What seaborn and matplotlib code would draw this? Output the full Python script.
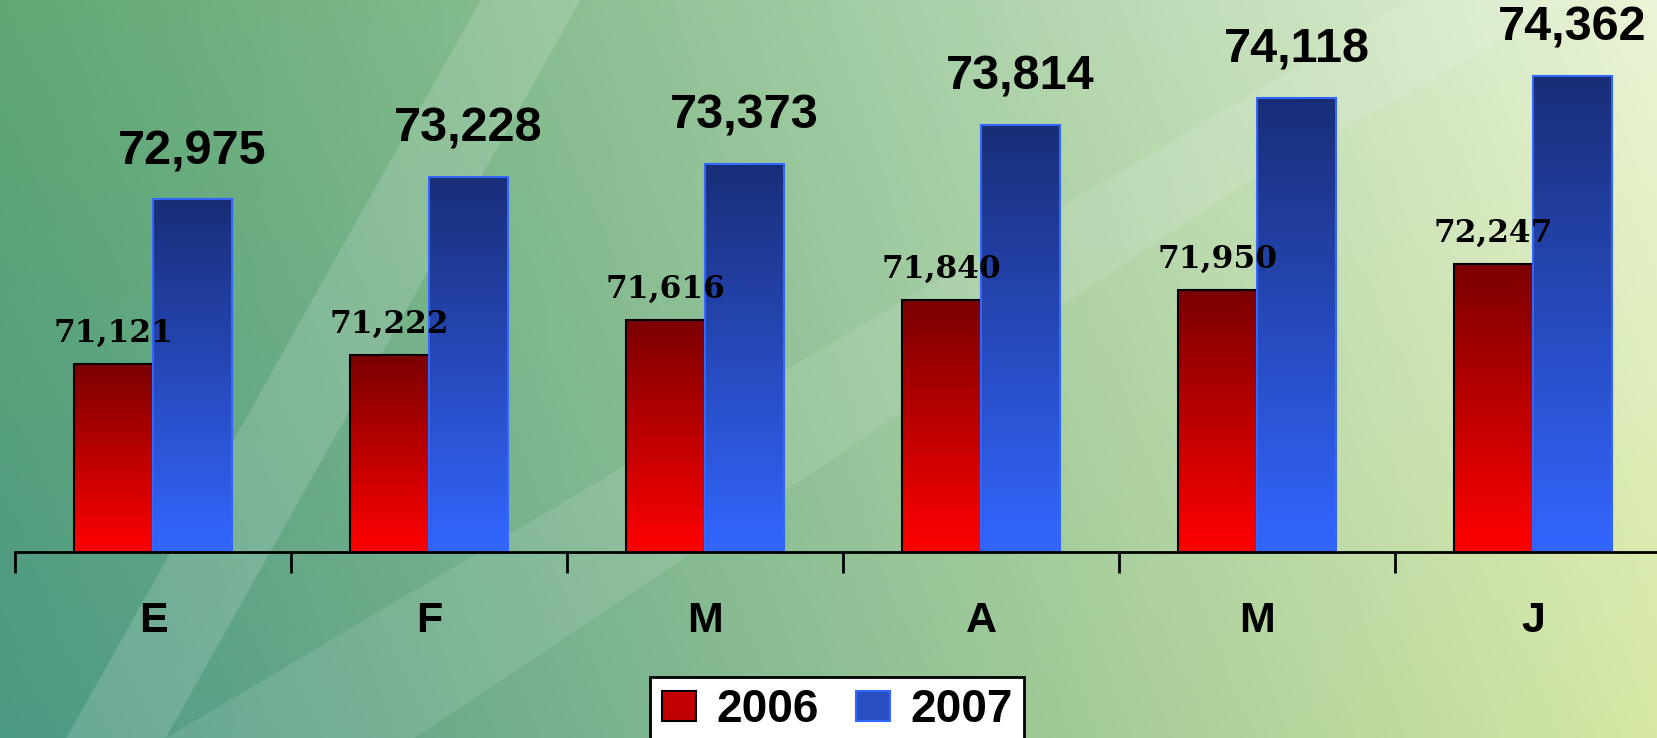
import numpy as np
import pandas as pd
import matplotlib
matplotlib.use('Agg')
import matplotlib.pyplot as plt
import seaborn as sns
from matplotlib.patches import Patch, Polygon

# datos
meses = ['Ene', 'Feb', 'Mar', 'Abr', 'May', 'Jun']
etiquetas = ['E', 'F', 'M', 'A', 'M', 'J']
v2006 = [71121, 71222, 71616, 71840, 71950, 72247]
v2007 = [72975, 73228, 73373, 73814, 74118, 74362]

df = pd.DataFrame({
    'mes': meses * 2,
    'valor': v2006 + v2007,
    'anio': ['2006'] * 6 + ['2007'] * 6,
})

sns.set_theme(style='white')
plt.rcParams['font.family'] = ['Liberation Sans', 'DejaVu Sans']
plt.rcParams['text.color'] = 'black'
plt.rcParams['xtick.color'] = 'black'

fig = plt.figure(figsize=(16.58, 7.38), dpi=100)

# fondo degradado verde
bg = fig.add_axes([0, 0, 1, 1], zorder=-10)
h, w = 200, 400
yy, xx = np.mgrid[0:1:h * 1j, 0:1:w * 1j]
izq_arr = np.array([0.38, 0.66, 0.45])
izq_abj = np.array([0.30, 0.60, 0.52])
der_arr = np.array([0.92, 0.96, 0.84])
der_abj = np.array([0.84, 0.91, 0.64])
t = (xx ** 1.1)[..., None]
s = yy[..., None]
img = (1 - t) * ((1 - s) * izq_arr + s * izq_abj) + t * ((1 - s) * der_arr + s * der_abj)
bg.imshow(img, extent=[0, 1, 0, 1], aspect='auto', origin='upper')
bg.add_patch(Polygon([[0.29, 1], [0.35, 1], [0.10, 0], [0.04, 0]], closed=True,
                     color='white', alpha=0.15, lw=0))
bg.add_patch(Polygon([[0.1, 0], [0.25, 0], [0.75, 0.75], [0.95, 1.0], [0.85, 1.0], [0.55, 0.6]],
                     closed=True, color='white', alpha=0.10, lw=0))
bg.set_xlim(0, 1)
bg.set_ylim(0, 1)
bg.axis('off')

ax = fig.add_axes([15 / 1658, 1 - 552 / 738, 1656 / 1658, 552 / 738])
ax.patch.set_alpha(0)

sns.barplot(data=df, x='mes', y='valor', hue='anio', order=meses,
            palette={'2006': '#c00000', '2007': '#2a4fc0'}, width=0.575,
            ax=ax, legend=False, saturation=1)

ax.set_ylim(69000, 75218)
ax.set_xlim(-0.5, 5.5)

grad_rojo = np.array([[0.48, 0.0, 0.0], [1.0, 0.0, 0.0]])
grad_azul = np.array([[0.10, 0.18, 0.47], [0.20, 0.40, 1.0]])
y0 = ax.get_ylim()[0]
for i, p in enumerate(ax.patches):
    if p.get_height() == 0:
        continue
    roja = i < len(meses)
    p.set_edgecolor('black' if roja else '#3366ff')
    p.set_linewidth(1.5)
    g = grad_rojo if roja else grad_azul
    n = 100
    f = np.linspace(0, 1, n)[:, None]
    col = (1 - f) * g[0] + f * g[1]
    col = col[:, None, :]
    top = p.get_y() + p.get_height()
    im = ax.imshow(col, extent=[p.get_x(), p.get_x() + p.get_width(), y0, top],
                   aspect='auto', origin='upper', zorder=p.get_zorder())
    im.set_clip_path(p)
    p.set_zorder(p.get_zorder() + 0.1)
    p.set_facecolor('none')

ax.set_xlim(-0.5, 5.5)
ax.set_ylim(69000, 75218)

# etiquetas de valores
for c, cont in enumerate(ax.containers):
    for bar, v in zip(cont, v2006 if c == 0 else v2007):
        cx = bar.get_x() + bar.get_width() / 2
        if c == 0:
            ax.annotate(f'{v:,}', (cx, v), xytext=(0, 11), textcoords='offset points',
                        ha='center', va='bottom', fontsize=22.5, fontweight='bold',
                        family=['DejaVu Serif'], color='black')
        else:
            ax.annotate(f'{v:,}', (cx, v), xytext=(0, 18), textcoords='offset points',
                        ha='center', va='bottom', fontsize=35, fontweight='bold',
                        color='black')

# ejes
for lado in ['top', 'left', 'right']:
    ax.spines[lado].set_visible(False)
ax.spines['bottom'].set_color('black')
ax.spines['bottom'].set_linewidth(2)
ax.set_yticks([])
ax.set_xlabel('')
ax.set_ylabel('')
ax.set_xticks(np.arange(len(meses) + 1) - 0.5)
ax.set_xticklabels([])
ax.set_xticks(np.arange(len(meses)), minor=True)
ax.set_xticklabels(etiquetas, minor=True, fontsize=31, fontweight='bold', color='black')
ax.tick_params(axis='x', which='major', length=15, width=2, color='black', direction='out', bottom=True)
ax.tick_params(axis='x', which='minor', length=0, pad=35)

# leyenda
handles = [Patch(facecolor='#c00000', edgecolor='black', lw=1.5, label='2006'),
           Patch(facecolor='#2a4fc0', edgecolor='#3366ff', lw=1.5, label='2007')]
leg = fig.legend(handles=handles, loc='upper center', bbox_to_anchor=(0.505, 0.083),
                 ncol=2, frameon=True, fancybox=False, edgecolor='black', borderaxespad=0,
                 prop={'size': 33, 'weight': 'bold'}, handlelength=0.75, handleheight=0.65,
                 columnspacing=0.8, handletextpad=0.45, borderpad=0.25)
leg.get_frame().set_linewidth(2)
leg.get_frame().set_alpha(1)

fig.savefig('out.png', dpi=100)
